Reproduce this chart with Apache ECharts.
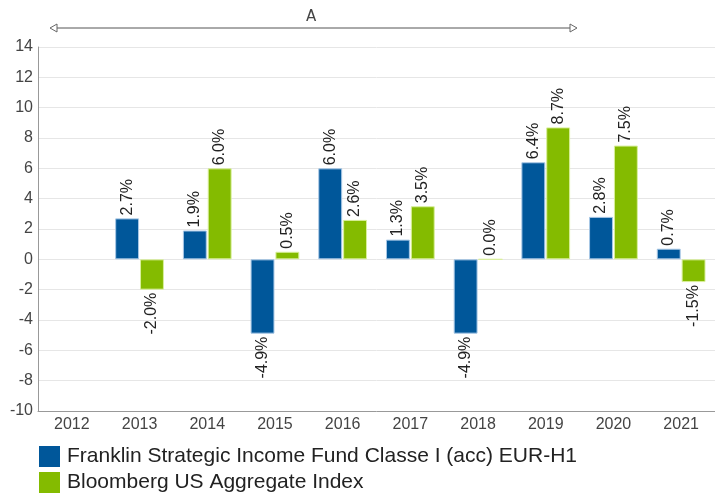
<!DOCTYPE html>
<html>
<head>
<meta charset="utf-8">
<script src="https://cdn.jsdelivr.net/npm/echarts@6/dist/echarts.min.js"></script>
<style>
  html, body { margin: 0; padding: 0; background: #fff; }
  #chart { width: 715px; height: 496px; }
</style>
</head>
<body>
<div id="chart"></div>
<script>
var years = ['2012', '2013', '2014', '2015', '2016', '2017', '2018', '2019', '2020', '2021'];
var fundName = 'Franklin Strategic Income Fund Classe I (acc) EUR-H1';
var indexName = 'Bloomberg US Aggregate Index';
var fundValues = [null, 2.7, 1.9, -4.9, 6.0, 1.3, -4.9, 6.4, 2.8, 0.7];
var indexValues = [null, -2.0, 6.0, 0.5, 2.6, 3.5, 0.0, 8.7, 7.5, -1.5];
var yTicks = [-10, -8, -6, -4, -2, 0, 2, 4, 6, 8, 10, 12, 14];

var font = 'Liberation Sans, Arial, sans-serif';

// label goes above positive bars, below negative ones, always rotated
function withLabels(values) {
    return values.map(function (v) {
        if (v === null) return null;
        var neg = v < 0;
        return {
            value: v,
            label: {
                show: true,
                position: neg ? 'bottom' : 'top',
                rotate: 90,
                align: neg ? 'right' : 'left',
                verticalAlign: 'middle',
                distance: 3,
                color: '#222',
                fontSize: 16,
                fontFamily: font,
                formatter: function (p) { return p.value.toFixed(1) + '%'; }
            }
        };
    });
}

var chart = echarts.init(document.getElementById('chart'));

var option = {
    backgroundColor: '#fff',
    animation: false,
    textStyle: { fontFamily: font },
    grid: { left: 38, right: -4, top: 47, bottom: 85 },
    legend: {
        orient: 'vertical',
        left: 39,
        top: 446,
        padding: 0,
        itemWidth: 21,
        itemHeight: 21,
        itemGap: 5,
        icon: 'rect',
        itemStyle: { borderWidth: 0 },
        textStyle: { fontSize: 21, color: '#222', fontFamily: font, padding: [0, 0, 0, 2] },
        data: [fundName, indexName]
    },
    xAxis: {
        type: 'category',
        data: years,
        axisLine: { onZero: false, lineStyle: { color: '#999' } },
        axisTick: { show: false },
        axisLabel: { color: '#444', fontSize: 16, margin: 6 }
    },
    yAxis: {
        type: 'value',
        min: yTicks[0],
        max: yTicks[yTicks.length - 1],
        interval: 2,
        axisLine: { show: true, lineStyle: { color: '#999' } },
        axisTick: { show: false },
        axisLabel: { color: '#444', fontSize: 16, margin: 5 },
        splitLine: { lineStyle: { color: '#e6e6e6' } }
    },
    series: [
        {
            name: fundName,
            type: 'bar',
            data: withLabels(fundValues),
            barGap: '4%',
            barCategoryGap: '28%',
            itemStyle: { color: '#00579a', borderColor: '#a9c8e6', borderWidth: 1 }
        },
        {
            name: indexName,
            type: 'bar',
            data: withLabels(indexValues),
            itemStyle: { color: '#84bb00', borderColor: '#d9ef9c', borderWidth: 1 }
        }
    ],
    graphic: [
        // period marker "A" above the plot
        { type: 'line', shape: { x1: 56, y1: 28, x2: 570, y2: 28 }, style: { stroke: '#555', lineWidth: 1 } },
        { type: 'polygon', shape: { points: [[50, 28], [57, 24], [57, 32]] }, style: { fill: '#fff', stroke: '#666', lineWidth: 1 } },
        { type: 'polygon', shape: { points: [[577, 28], [570, 24], [570, 32]] }, style: { fill: '#fff', stroke: '#666', lineWidth: 1 } },
        { type: 'text', left: 306, top: 10, style: { text: 'A', fill: '#444', fontSize: 15, fontFamily: 'DejaVu Sans, sans-serif' } }
    ]
};

chart.setOption(option);
</script>
</body>
</html>
